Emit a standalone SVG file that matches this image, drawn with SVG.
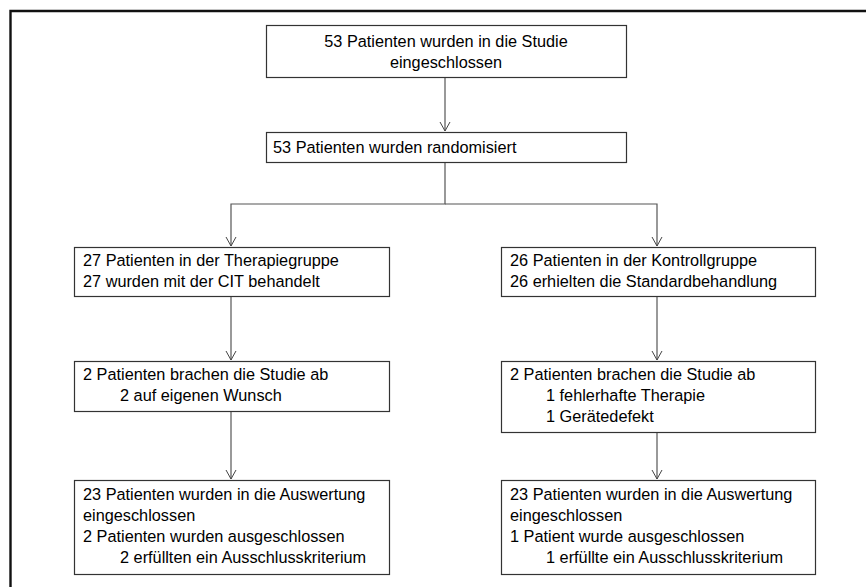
<svg xmlns="http://www.w3.org/2000/svg" width="866" height="587" viewBox="0 0 866 587">
<defs>
<marker id="arr" markerWidth="12" markerHeight="12" refX="10" refY="6" orient="auto" markerUnits="userSpaceOnUse">
<path d="M1,1 L10,6 L1,11" fill="none" stroke="#444" stroke-width="1"/>
</marker>
</defs>
<style>
.box{fill:#fff;stroke:#333;stroke-width:1.2}
.t{font-family:"Liberation Sans",Arial,sans-serif;font-size:16.3px;fill:#000}
.c{fill:none;stroke:#555;stroke-width:1.2}
.frame{fill:none;stroke:#111;stroke-width:2.4}
</style>
<rect width="866" height="587" fill="#fff"/>
<path class="frame" d="M10.5,600 V11 H880"/>
<g id="connectors">
<path class="c" d="M445,78 V131" marker-end="url(#arr)"/>
<path class="c" d="M445,163 V204 H231 V246" marker-end="url(#arr)"/>
<path class="c" d="M445,204 H657 V246" marker-end="url(#arr)"/>
<path class="c" d="M231,297 V360" marker-end="url(#arr)"/>
<path class="c" d="M657,297 V360" marker-end="url(#arr)"/>
<path class="c" d="M231,412 V479" marker-end="url(#arr)"/>
<path class="c" d="M657,433 V479" marker-end="url(#arr)"/>
</g>
<g id="n1">
<rect class="box" x="266.5" y="25.5" width="360" height="52"/>
<text class="t" x="446" y="47" text-anchor="middle">53 Patienten wurden in die Studie</text>
<text class="t" x="446" y="68" text-anchor="middle">eingeschlossen</text>
</g>
<g id="n2">
<rect class="box" x="266.5" y="132.5" width="360" height="30"/>
<text class="t" x="273" y="153">53 Patienten wurden randomisiert</text>
</g>
<g id="n3">
<rect class="box" x="74.5" y="247.5" width="315" height="49"/>
<text class="t" x="83" y="266">27 Patienten in der Therapiegruppe</text>
<text class="t" x="83" y="287">27 wurden mit der CIT behandelt</text>
</g>
<g id="n4">
<rect class="box" x="501.5" y="247.5" width="314" height="49"/>
<text class="t" x="510" y="266">26 Patienten in der Kontrollgruppe</text>
<text class="t" x="510" y="287">26 erhielten die Standardbehandlung</text>
</g>
<g id="n5">
<rect class="box" x="74.5" y="361.5" width="315" height="50"/>
<text class="t" x="83" y="380">2 Patienten brachen die Studie ab</text>
<text class="t" x="120" y="401">2 auf eigenen Wunsch</text>
</g>
<g id="n6">
<rect class="box" x="501.5" y="361.5" width="314" height="71"/>
<text class="t" x="510" y="380">2 Patienten brachen die Studie ab</text>
<text class="t" x="546" y="401">1 fehlerhafte Therapie</text>
<text class="t" x="546" y="422">1 Gerätedefekt</text>
</g>
<g id="n7">
<rect class="box" x="74.5" y="480.5" width="315" height="94"/>
<text class="t" x="83" y="500">23 Patienten wurden in die Auswertung</text>
<text class="t" x="83" y="521">eingeschlossen</text>
<text class="t" x="83" y="542">2 Patienten wurden ausgeschlossen</text>
<text class="t" x="120" y="563">2 erfüllten ein Ausschlusskriterium</text>
</g>
<g id="n8">
<rect class="box" x="501.5" y="480.5" width="314" height="94"/>
<text class="t" x="510" y="500">23 Patienten wurden in die Auswertung</text>
<text class="t" x="510" y="521">eingeschlossen</text>
<text class="t" x="510" y="542">1 Patient wurde ausgeschlossen</text>
<text class="t" x="546" y="563">1 erfüllte ein Ausschlusskriterium</text>
</g>
</svg>
